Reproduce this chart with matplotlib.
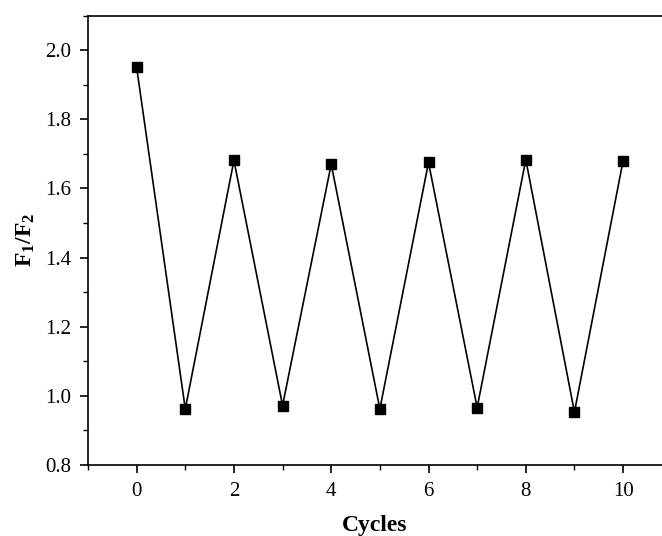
"""Recreate F1/F2 cycling chart."""

import matplotlib

matplotlib.use("Agg")
import matplotlib.pyplot as plt
from matplotlib.ticker import MultipleLocator


CYCLES = [0, 1, 2, 3, 4, 5, 6, 7, 8, 9, 10]
RATIO = [1.95, 0.962, 1.681, 0.972, 1.670, 0.962, 1.675, 0.966, 1.683, 0.953, 1.680]

plt.rcParams["font.family"] = ["Liberation Serif", "DejaVu Serif"]
plt.rcParams["mathtext.fontset"] = "custom"
plt.rcParams["mathtext.rm"] = "Liberation Serif"
plt.rcParams["mathtext.bf"] = "Liberation Serif:bold"

fig = plt.figure(figsize=(6.62, 5.36), dpi=100)
ax = fig.add_axes([88 / 662, 1 - 465 / 536, 1 - 88 / 662, (465 - 15.5) / 536])

ax.plot(CYCLES, RATIO, color="black", linewidth=1.2, marker="s", markersize=7.5,
        markerfacecolor="black", markeredgecolor="black")

ax.set_xlim(-1, 10.8)
ax.set_ylim(0.8, 2.1)
ax.xaxis.set_major_locator(MultipleLocator(2))
ax.xaxis.set_minor_locator(MultipleLocator(1))
ax.yaxis.set_major_locator(MultipleLocator(0.2))
ax.yaxis.set_minor_locator(MultipleLocator(0.1))
ax.yaxis.set_major_formatter(plt.FormatStrFormatter("%.1f"))

for side in ["left", "bottom", "top"]:
    ax.spines[side].set_linewidth(1.2)
ax.spines["right"].set_visible(False)

ax.tick_params(which="major", direction="out", length=6, width=1.2, labelsize=15,
               pad=6, top=False, right=False)
ax.tick_params(which="minor", direction="out", length=3.5, width=1.0, top=False, right=False)

ax.set_xlabel("Cycles", fontsize=17, fontweight="bold", labelpad=10)
ax.set_ylabel(r"$\mathbf{F_1/F_2}$", fontsize=17, labelpad=6)

fig.savefig("out.png", dpi=100)
plt.close(fig)
